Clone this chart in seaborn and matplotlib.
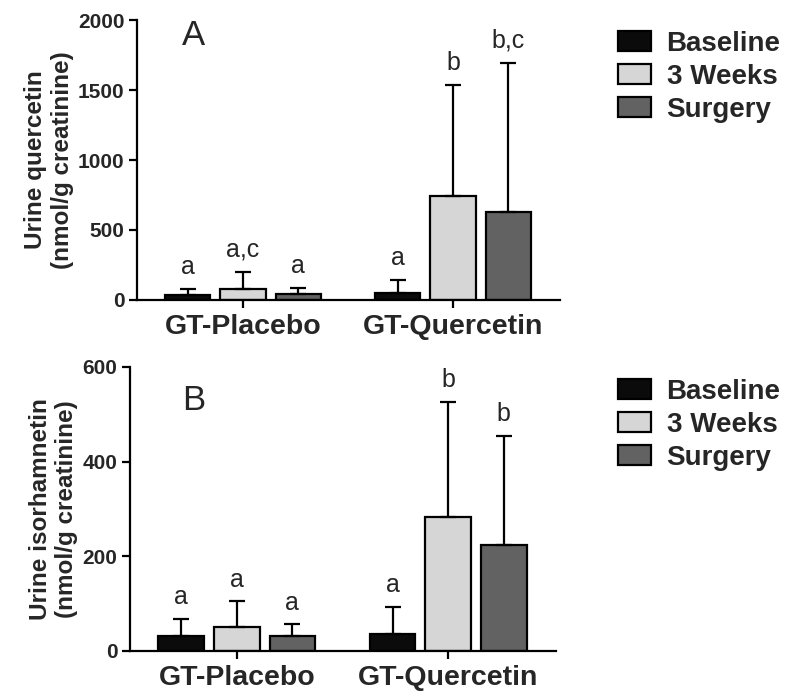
import pandas as pd
import numpy as np
import matplotlib
matplotlib.use("Agg")
import matplotlib.pyplot as plt
import seaborn as sns

# データ
groups = ["GT-Placebo", "GT-Quercetin"]
timepoints = ["Baseline", "3 Weeks", "Surgery"]
colors = ["#0b0b0b", "#d6d6d6", "#626262"]

# パネルA: 尿中ケルセチン (mean, SD)
quer_mean = {"Baseline": [38, 48], "3 Weeks": [81, 743], "Surgery": [43, 631]}
quer_sd = {"Baseline": [43, 97], "3 Weeks": [121, 793], "Surgery": [45, 1064]}
quer_letters = {"Baseline": ["a", "a"], "3 Weeks": ["a,c", "b"], "Surgery": ["a", "b,c"]}

# パネルB: 尿中イソラムネチン (mean, SD)
iso_mean = {"Baseline": [31, 35], "3 Weeks": [51, 283], "Surgery": [32, 223]}
iso_sd = {"Baseline": [37, 58], "3 Weeks": [54, 243], "Surgery": [24, 231]}
iso_letters = {"Baseline": ["a", "a"], "3 Weeks": ["a", "b"], "Surgery": ["a", "b"]}

sns.set_style("ticks")
FONT = ["Liberation Sans", "DejaVu Sans"]
plt.rcParams["font.family"] = FONT


def to_frame(means):
    rows = []
    for t in timepoints:
        for g, v in zip(groups, means[t]):
            rows.append({"group": g, "time": t, "value": v})
    return pd.DataFrame(rows)


def draw_panel(ax, means, sds, letters, ylim, yticks, ylabel, panel, panel_pos, legend_top):
    df = to_frame(means)
    sns.barplot(data=df, x="group", y="value", hue="time", order=groups,
                hue_order=timepoints, palette=colors, width=0.79, gap=0.18,
                edgecolor="black", linewidth=1.6, errorbar=None, ax=ax,
                saturation=1)

    # 上側のみのエラーバー
    for cont, t in zip(ax.containers, timepoints):
        for bar, sd, lab in zip(cont.patches, sds[t], letters[t]):
            xc = bar.get_x() + bar.get_width() / 2
            h = bar.get_height()
            ax.errorbar(xc, h, yerr=[[0], [sd]], fmt="none", ecolor="black",
                        elinewidth=1.6, capsize=5.5, capthick=1.6, zorder=1)
            ax.annotate(lab, (xc, h + sd), xytext=(0, 7), textcoords="offset points",
                        ha="center", va="bottom", fontsize=18, family=FONT)

    ax.set_ylim(*ylim)
    ax.set_yticks(yticks)
    ax.set_xlim(-0.505, 1.51)
    ax.set_xlabel("")
    ax.set_ylabel(ylabel, fontsize=17.5, fontweight="bold", family=FONT, labelpad=3)
    ax.tick_params(axis="both", width=1.6, length=6, color="black")
    ax.tick_params(axis="y", labelsize=15, pad=3)
    ax.tick_params(axis="x", labelsize=20.5, pad=4)
    for lab in ax.get_xticklabels() + ax.get_yticklabels():
        lab.set_fontweight("bold")
    for side in ["left", "bottom"]:
        ax.spines[side].set_linewidth(1.6)
        ax.spines[side].set_color("black")
    sns.despine(ax=ax)

    ax.text(panel_pos[0], panel_pos[1], panel, transform=ax.transAxes,
            fontsize=25, ha="left", va="center", family=FONT)

    sns.move_legend(ax, "upper left", bbox_to_anchor=(618 / 785, legend_top),
                    bbox_transform=ax.figure.transFigure, frameon=False, title=None,
                    prop=dict(family=FONT, weight="bold", size=20),
                    handlelength=1.2, handleheight=0.72, handletextpad=0.55,
                    labelspacing=0.25, borderpad=0, borderaxespad=0)


fig = plt.figure(figsize=(7.85, 6.92), dpi=100)
ax_a = fig.add_axes([137 / 785, 1 - 300 / 692, 423 / 785, 280 / 692])
ax_b = fig.add_axes([130 / 785, 1 - 651 / 692, 426 / 785, 284 / 692])

draw_panel(ax_a, quer_mean, quer_sd, quer_letters, (0, 2000), [0, 500, 1000, 1500, 2000],
           "Urine quercetin\n(nmol/g creatinine)", "A", (0.106, 0.943), 1 - 31 / 692)
draw_panel(ax_b, iso_mean, iso_sd, iso_letters, (0, 600), [0, 200, 400, 600],
           "Urine isorhamnetin\n(nmol/g creatinine)", "B", (0.122, 0.883), 1 - 379 / 692)

fig.savefig("out.png", dpi=100, facecolor="white")
plt.close(fig)
